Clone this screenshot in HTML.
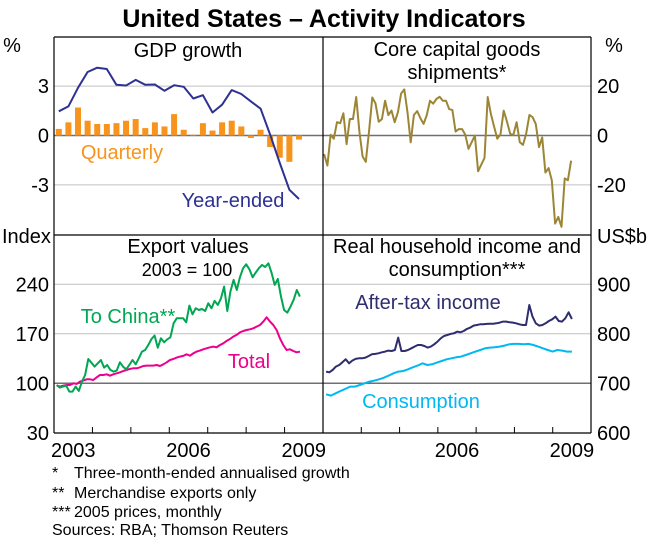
<!DOCTYPE html>
<html><head><meta charset="utf-8">
<style>
html,body{margin:0;padding:0;background:#fff;}
svg text{font-family:"Liberation Sans",Arial,sans-serif;}
</style></head>
<body>
<svg id="c" width="648" height="538" viewBox="0 0 648 538" xmlns="http://www.w3.org/2000/svg">
<text x="324" y="27" text-anchor="middle" font-size="25" font-weight="bold">United States – Activity Indicators</text>
<g id="grid"></g>
<g id="marks"></g>
<g id="frame"></g>
<g id="labels"></g>
</svg>
<script>
// ---- data ----
const gdpQuarterly = [0.4,0.8,1.7,0.9,0.7,0.7,0.75,0.9,1.0,0.45,0.8,0.55,1.3,0.35,0.05,0.75,0.3,0.8,0.9,0.55,-0.15,0.35,-0.7,-1.35,-1.6,-0.25];
const gdpYearEnded = [1.47,1.77,2.9,3.86,4.12,4.04,3.08,3.04,3.38,3.08,3.1,2.72,3.06,2.96,2.25,2.45,1.4,1.87,2.76,2.52,2.07,1.63,0.04,-1.67,-3.3,-3.86];
const capGoods = [-7.5,-12.2,0.3,-1.3,5.4,5.0,9.0,-3.5,6.7,6.7,15.6,1.6,-8.5,-10.7,1.6,15.4,13.0,5.6,6.6,14.1,8.3,10.1,5.4,9.4,17.0,18.7,9.4,-2.8,8.3,9.9,7.0,4.7,8.3,14.1,12.9,14.8,15.7,14.1,14.1,10.7,10.3,1.6,2.6,2.6,0.3,-5.4,-2.7,0,-14.5,-11.8,-9.1,15.6,8.7,3.6,-1.3,0.5,10.1,5.6,0.7,0.3,5.4,-2.7,-3.8,0.8,8.3,7.4,4.6,-4.7,-0.8,-15.0,-13.2,-18.1,-35.7,-33.0,-37.0,-17.4,-18.1,-10.2];
const exportsChina = [97.6,93.9,95.3,96.7,88.2,88.2,95.3,89.2,102.4,111.8,134.4,129.2,123.6,128.3,133.0,122.2,125.9,118.9,116.5,117.9,129.7,123.6,119.8,125.9,133.0,126.9,135.4,144.8,147.1,154.2,162.7,167.4,150.4,163.6,158.0,162.2,165.1,184.9,191.9,191.9,191.9,186.3,209.9,197.6,206.1,203.7,205.1,202.3,213.2,206.1,216.5,210.8,220.2,236.7,202.3,229.7,246.2,232.0,249.9,262.7,268.3,261.2,249.9,256.5,262.7,267.4,264.5,269.7,256.5,239.1,247.6,222.6,203.7,200.0,208.4,217.9,232.0,222.6];
const exportsTotal = [96.7,95.3,96.7,97.6,97.6,100,99.1,102.4,103.8,105.7,105.7,104.7,108.5,111.8,111.8,112.7,110.8,112.7,114.1,115.6,117.4,118.9,120.3,121.2,121.2,122.6,124.5,125.0,125.0,125.0,125.9,124.5,126.9,129.7,133.0,134.4,136.3,137.7,138.7,141.0,139.1,142.4,144.8,146.2,148.1,149.5,150.9,151.9,150.9,154.2,156.6,159.9,162.7,166.0,168.4,172.1,174.0,175.4,176.4,177.8,180.2,182.5,187.2,193.4,187.2,182.5,175.4,163.6,154.2,147.1,148.1,145.7,143.8,144.8];
const income = [723.6,722.2,726.9,733.7,737.0,742.4,748.5,740.4,745.8,749.2,750.5,750.5,751.9,755.2,758.6,759.3,760.6,762.6,764.0,766.0,765.3,767.3,792.3,765.3,765.3,767.3,770.7,774.1,777.4,777.4,775.4,772.1,774.1,778.8,784.2,790.9,795.6,797.6,799.7,801.0,804.4,803.0,805.7,809.8,812.5,816.5,817.8,819.2,819.2,819.9,820.5,820.5,821.2,822.6,824.6,824.6,823.2,822.6,821.2,819.2,817.8,817.8,858.2,834.7,821.2,816.5,817.8,821.2,825.9,829.3,834.7,825.9,824.6,831.3,843.4,830.0];
const consumption = [677.8,675.1,679.8,684.5,688.6,693.3,693.3,696.6,700,703.4,705.4,708.1,711.4,715.5,720.2,723.6,724.9,728.3,732.3,735.7,740.4,737.0,738.4,741.8,745.1,748.5,750.5,752.5,753.9,757.2,760.6,764.0,767.3,770.7,772.1,772.7,774.1,776.1,778.8,779.5,779.5,778.8,779.5,777.4,774.1,770.7,767.3,764.0,767.3,766.0,764.0,764.0];
const seriesSpan = {gdp:[2003.125,0.25], cap:[2003.03,2009.48], exp:[2003.07,2009.4], hh:[2003.08,2009.5]};
const leftTicksTop = [3,0,-3], rightTicksTop = [20,0,-20];
const leftTicksBot = [240,170,100,30], rightTicksBot = [900,800,700,600];
const yearLabels = [2003,2006,2009];
const yearLabelsRight = [2006,2009];

const NS="http://www.w3.org/2000/svg";
function el(tag,attrs,parent,txt){const e=document.createElementNS(NS,tag);for(const k in attrs)e.setAttribute(k,attrs[k]);if(txt!==undefined)e.textContent=txt;parent.appendChild(e);return e;}
const gGrid=document.getElementById('grid'),gMarks=document.getElementById('marks'),gFrame=document.getElementById('frame'),gLab=document.getElementById('labels');
const Lx=54,Mx=323,Rx=591,Ty=37,MIDy=235,By=433;
const xLeft=y=>Lx+(y-2003)*(Mx-Lx)/7;
const xRight=y=>Mx+(y-2003)*(Rx-Mx)/7;
const yGdp=v=>135.5-v*16.45;
const yCap=v=>135.5-v*16.45*3/20;
const yExp=v=>383.3-(v-100)*49.5/70;
const yHH=v=>383.3-(v-700)*49.5/100;
function ticksSpan(arr,a,b){return arr.map((v,i)=>[a+(b-a)*i/(arr.length-1),v]);}
function line(pts,xf,yf,color,name,w){
  const d=pts.map((p,i)=>(i?'L':'M')+xf(p[0]).toFixed(1)+','+yf(p[1]).toFixed(1)).join('');
  const p=el('path',{d:d,fill:'none',stroke:color,'stroke-width':w||2,'stroke-linejoin':'round'},gMarks);
  
  
}
[[yGdp(3),Lx,Mx],[yGdp(-3),Lx,Mx],[yCap(20),Mx,Rx],[yCap(-20),Mx,Rx],[yExp(240),Lx,Mx],[yExp(170),Lx,Mx],[yHH(900),Mx,Rx],[yHH(800),Mx,Rx]].forEach(g=>{
  const e=el('line',{x1:g[1],x2:g[2],y1:g[0],y2:g[0],stroke:'#c0c0c0','stroke-width':1},gGrid);
  
  
});
[[yGdp(0),Lx,Rx],[yExp(100),Lx,Mx],[yHH(700),Mx,Rx]].forEach(g=>{
  const e=el('line',{x1:g[1],x2:g[2],y1:g[0],y2:g[0],stroke:'#707070','stroke-width':1.5},gGrid);
  
  
});
const bw=6;
gdpQuarterly.forEach((v,i)=>{
  const x=xLeft(seriesSpan.gdp[0]+i*seriesSpan.gdp[1]);
  const y0=yGdp(0),y1=yGdp(v);
  const r=el('rect',{x:x-bw/2,y:Math.min(y0,y1),width:bw,height:Math.max(Math.abs(y1-y0),0.5),fill:'#f7941d'},gMarks);
  
  
});
line(gdpYearEnded.map((v,i)=>[seriesSpan.gdp[0]+i*seriesSpan.gdp[1],v]),xLeft,yGdp,'#2e3192','gdp-year-ended-line',2);
line(ticksSpan(capGoods,seriesSpan.cap[0],seriesSpan.cap[1]),xRight,yCap,'#9c8636','capital-goods-line',2);
line(ticksSpan(exportsTotal,seriesSpan.exp[0],seriesSpan.exp[1]),xLeft,yExp,'#ec008c','exports-total-line',2);
line(ticksSpan(exportsChina,seriesSpan.exp[0],seriesSpan.exp[1]),xLeft,yExp,'#00a651','exports-china-line',2);
line(ticksSpan(consumption,seriesSpan.hh[0],seriesSpan.hh[1]),xRight,yHH,'#00b9f1','consumption-line',2);
line(ticksSpan(income,seriesSpan.hh[0],seriesSpan.hh[1]),xRight,yHH,'#2e2d6e','income-line',2);
[[Lx,Ty,Rx,Ty],[Lx,By,Rx,By],[Lx,Ty,Lx,By],[Rx,Ty,Rx,By],[Mx,Ty,Mx,By],[Lx,MIDy,Rx,MIDy]].forEach(f=>{
  const e=el('line',{x1:f[0],y1:f[1],x2:f[2],y2:f[3],stroke:'#000','stroke-width':1.2},gFrame);
  
  
});
for(let y=2004;y<=2009;y++){
  [xLeft(y),xRight(y)].forEach(x=>{
    const e=el('line',{x1:x,x2:x,y1:By,y2:By-6,stroke:'#000','stroke-width':1},gFrame);
    
    
  });
}
function txt(x,y,s,name,opt){
  const a=Object.assign({x:x,y:y,'font-size':20,'text-anchor':'middle',fill:'#000'},opt||{});
  const t=el('text',a,gLab,s);
  
  
}
leftTicksTop.forEach(v=>txt(Lx-5,yGdp(v)+7,String(v),'left-y-tick-label',{'text-anchor':'end'}));
rightTicksTop.forEach(v=>txt(Rx+6,yCap(v)+7,String(v),'right-y-tick-label',{'text-anchor':'start'}));
leftTicksBot.forEach(v=>txt(Lx-5,yExp(v)+7,String(v),'left-y-tick-label',{'text-anchor':'end'}));
rightTicksBot.forEach(v=>txt(Rx+6,yHH(v)+7,String(v),'right-y-tick-label',{'text-anchor':'start'}));
yearLabels.forEach(y=>txt(xLeft(y+0.5),457,String(y),'x-tick-label'));
yearLabelsRight.forEach(y=>txt(xRight(y+0.5),457,String(y),'x-tick-label'));
txt(12,52,'%','left-unit-top');
txt(614,52,'%','right-unit-top');
txt(2,243,'Index','left-unit-bottom',{'text-anchor':'start'});
txt(597,243,'US$b','right-unit-bottom',{'text-anchor':'start'});
txt(188,57,'GDP growth','panel-title-gdp');
txt(457,56,'Core capital goods','panel-title-capital-goods');
txt(457,79,'shipments*','panel-title-capital-goods-2');
txt(188,253,'Export values','panel-title-exports');
txt(187,276,'2003 = 100','panel-subtitle-exports',{'font-size':18});
txt(457,253,'Real household income and','panel-title-household');
txt(457,276,'consumption***','panel-title-household-2');
txt(122,159,'Quarterly','legend-quarterly',{fill:'#f7941d'});
txt(233,207,'Year-ended','legend-year-ended',{fill:'#2e3192'});
txt(128,323,'To China**','legend-china',{fill:'#00a651'});
txt(249,368,'Total','legend-total',{fill:'#ec008c'});
txt(428,309,'After-tax income','legend-income',{fill:'#2e2d6e'});
txt(421,408,'Consumption','legend-consumption',{fill:'#00b9f1'});
const fn=[['*','Three-month-ended annualised growth',478],['**','Merchandise exports only',498],['***','2005 prices, monthly',517]];
fn.forEach(f=>{txt(52,f[2],f[0],'footnote-marker',{'text-anchor':'start','font-size':16});txt(74,f[2],f[1],'footnote',{'text-anchor':'start','font-size':16});});
txt(52,535,'Sources: RBA; Thomson Reuters','sources-note',{'text-anchor':'start','font-size':16});
</script>
</body></html>
